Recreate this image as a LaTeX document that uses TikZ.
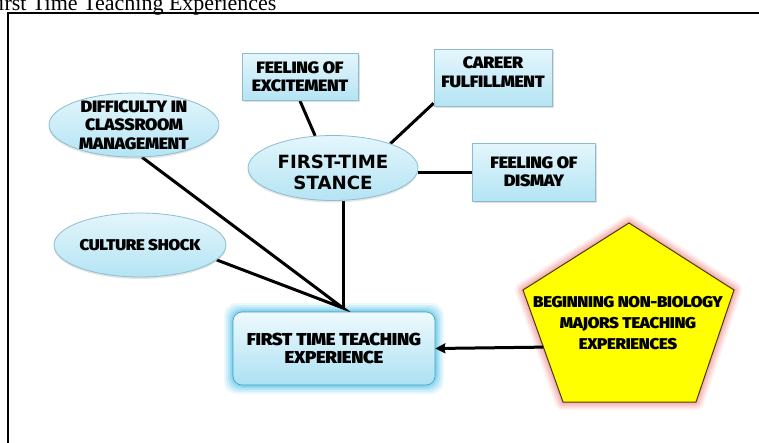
\documentclass[tikz,border=0pt]{standalone}
\usepackage{fontspec}
\setmainfont{Liberation Serif}
% heavy face for the labels (first installed one wins)
\IfFontExistsTF{Fira Sans Black}{%
  \newfontfamily\lblfont[FakeStretch=1.08,LetterSpace=-2]{Fira Sans Black}}{%
  \IfFontExistsTF{DejaVu Sans Condensed Bold}{%
    \newfontfamily\lblfont[FakeStretch=0.9,LetterSpace=-3]{DejaVu Sans Condensed Bold}}{%
    \newfontfamily\lblfont[FakeStretch=0.92,LetterSpace=-3]{Liberation Sans Bold}}}
\newfontfamily\stancefont{DejaVu Sans Bold}
\usetikzlibrary{shapes.geometric,arrows.meta,shadows,calc}
\pgfdeclarelayer{bg}
\pgfsetlayers{bg,main}

\definecolor{boxtop}{HTML}{E4F6FC}
\definecolor{boxbot}{HTML}{B4E4F4}
\definecolor{boxline}{HTML}{8CBCCE}
\definecolor{glowblue}{HTML}{5CC6EA}
\definecolor{glowpink}{HTML}{F29A9A}
\definecolor{pentline}{HTML}{4A3A10}
\definecolor{pentfill}{HTML}{FFFF00}

\tikzset{
  lbl/.style={font=\lblfont\fontsize{16.5}{18.5}\selectfont, align=center, text=black},
  bluebox/.style={lbl, rectangle, draw=boxline, line width=0.8pt,
    top color=boxtop, bottom color=boxbot, inner sep=0pt,
    drop shadow={opacity=0.25, shadow xshift=1.5pt, shadow yshift=-1.5pt}},
  % fixed-size ellipse; its text sits in a centred label so it cannot grow the shape
  blueoval/.style={ellipse, draw=boxline, line width=0.8pt,
    top color=boxtop, bottom color=boxbot, inner sep=0pt,
    drop shadow={opacity=0.2, shadow xshift=0pt, shadow yshift=-2pt}},
  ovaltext/.style={lbl, inner sep=0pt},
  link/.style={line width=3pt, black},
}

\begin{document}
\begin{tikzpicture}[x=1pt, y=-1pt]
\useasboundingbox (0,0) rectangle (759,442);

% caption above the figure frame
\node[anchor=base west, inner sep=0pt, font=\fontsize{22}{24}\selectfont] (title) at (-14,10) {First Time Teaching Experiences};

% figure frame
\draw[line width=2pt] (8,470) -- (8,13) -- (790,13);

% satellite boxes
\node[bluebox, minimum width=116pt, minimum height=47pt] (exc) at (300,77) {FEELING OF\\EXCITEMENT};
\node[bluebox, minimum width=118pt, minimum height=57pt] (car) at (493,78) {CAREER\\FULFILLMENT\\[-7pt]\mbox{}};
\node[bluebox, minimum width=123pt, minimum height=58pt] (dis) at (534,172) {FEELING OF\\DISMAY};

% ellipses
\node[blueoval, minimum width=170pt, minimum height=64pt,
  label={[ovaltext]center:DIFFICULTY IN\\CLASSROOM\\MANAGEMENT}] (diff) at (134,125) {};
\node[blueoval, minimum width=170pt, minimum height=65pt,
  label={[ovaltext, yshift=-4.5pt, font=\stancefont\fontsize{18.2}{21.5}\selectfont]center:FIRST-TIME\\STANCE}] (stance) at (333,168) {};
\node[blueoval, minimum width=172pt, minimum height=64pt,
  label={[ovaltext, font=\lblfont\fontsize{15.6}{18}\selectfont]center:CULTURE SHOCK}] (cult) at (140,245) {};

% central box with soft blue glow
\begin{pgfonlayer}{bg}
  \foreach \g/\o in {9/0.12, 7/0.18, 5/0.25, 3/0.35, 1.5/0.45}{
    \fill[glowblue, opacity=\o, rounded corners=12pt]
      (233-\g,312-\g) rectangle (435+\g,385+\g);
  }
\end{pgfonlayer}
\node[lbl, rectangle, rounded corners=9pt, draw=glowblue!80!black, line width=0.6pt,
  top color=boxtop!60!white, bottom color=boxbot!90!glowblue,
  minimum width=202pt, minimum height=73pt, inner sep=0pt,
  font=\lblfont\fontsize{17.3}{18}\selectfont] (teach) at (334,348.5) {FIRST TIME TEACHING\\EXPERIENCE};

% pentagon with pink glow
\coordinate (p1) at (629,223);
\coordinate (p2) at (734,290);
\coordinate (p3) at (696,402);
\coordinate (p4) at (563,402);
\coordinate (p5) at (523,290);
\begin{pgfonlayer}{bg}
  \foreach \w/\o in {16/0.15, 12/0.22, 8/0.32, 4/0.45}{
    \draw[glowpink, opacity=\o, line width=\w pt, line join=round]
      (p1) -- (p2) -- (p3) -- (p4) -- (p5) -- cycle;
  }
\end{pgfonlayer}
\filldraw[fill=pentfill, draw=pentline, line width=1pt, line join=miter]
  (p1) -- (p2) -- (p3) -- (p4) -- (p5) -- cycle;
\node[lbl, font=\lblfont\fontsize{15.6}{21}\selectfont] (beg) at (628,323) {BEGINNING NON-BIOLOGY\\MAJORS TEACHING\\EXPERIENCES};
\coordinate (pedge) at ($(p5)!0.51!(p4)$);

% meeting point of the lines above the central box
\coordinate (junc) at (343,308);

% connectors
\begin{pgfonlayer}{bg}
  \draw[link] (exc.south) -- (stance.119);
  \draw[link] (car.203) -- (stance.23);
  \draw[link] (dis.west) -- (dis.west -| stance.east);
  \draw[link] (stance.south -| junc) -- (junc);
  \draw[link, line join=miter] (diff.-76) -- (junc) -- (cult.-11);
\end{pgfonlayer}
\draw[line width=3pt, -{Stealth[length=10pt, width=10pt, inset=1pt]}] (pedge) -- (teach.east);
\end{tikzpicture}
\end{document}
